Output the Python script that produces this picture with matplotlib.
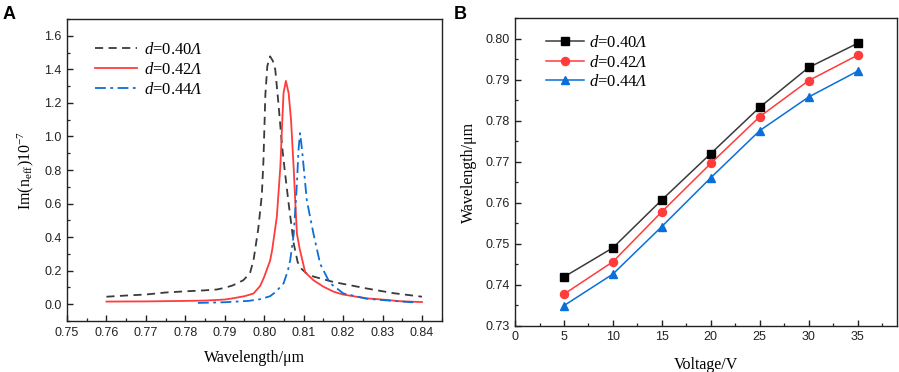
import matplotlib
matplotlib.use("Agg")
import matplotlib.pyplot as plt
from matplotlib.ticker import MultipleLocator

plt.rcParams['font.family'] = ['Liberation Sans', 'DejaVu Sans']
plt.rcParams['mathtext.fontset'] = 'custom'
plt.rcParams['mathtext.rm'] = 'Liberation Serif'
plt.rcParams['mathtext.it'] = 'Liberation Serif:italic'
plt.rcParams['mathtext.sf'] = 'Liberation Serif:italic'

# ---------------- Panel A data ----------------
wl_040 = [0.760, 0.765, 0.770, 0.775, 0.780, 0.785, 0.788, 0.790, 0.792, 0.7947,
          0.7964, 0.7973, 0.7985, 0.7994, 0.7998, 0.8003, 0.8008, 0.8015, 0.8022,
          0.8028, 0.8036, 0.8045, 0.8052, 0.8062, 0.8075, 0.8085, 0.8095, 0.8108,
          0.8125, 0.8175, 0.826, 0.8328, 0.840]
im_040 = [0.045, 0.052, 0.058, 0.070, 0.077, 0.083, 0.088, 0.098, 0.112, 0.143,
          0.185, 0.263, 0.45, 0.65, 0.85, 1.25, 1.42, 1.477, 1.45,
          1.40, 1.20, 0.95, 0.80, 0.60, 0.36, 0.25, 0.21, 0.183,
          0.165, 0.133, 0.094, 0.066, 0.045]

wl_042 = [0.760, 0.770, 0.780, 0.785, 0.790, 0.7922, 0.795, 0.7973, 0.7990, 0.8000,
          0.8015, 0.8020, 0.8032, 0.8041, 0.8046, 0.8049, 0.8055, 0.8062, 0.8068,
          0.8075, 0.8079, 0.8083, 0.8090, 0.8096, 0.8104, 0.8125, 0.8150, 0.8176,
          0.8200, 0.8260, 0.8300, 0.8345, 0.8400]
im_042 = [0.016, 0.017, 0.020, 0.022, 0.028, 0.036, 0.048, 0.064, 0.11, 0.163,
          0.26, 0.32, 0.52, 0.82, 1.10, 1.258, 1.331, 1.258, 1.10,
          0.80, 0.60, 0.42, 0.33, 0.27, 0.19, 0.143, 0.105, 0.075,
          0.058, 0.035, 0.028, 0.018, 0.013]

wl_044 = [0.7832, 0.790, 0.796, 0.799, 0.8015, 0.803, 0.8049, 0.806, 0.8066, 0.8075,
          0.8083, 0.8087, 0.8091, 0.8096, 0.8108, 0.8125, 0.8142, 0.8163, 0.8168,
          0.8201, 0.826, 0.830, 0.835, 0.8388]
im_044 = [0.008, 0.012, 0.020, 0.030, 0.048, 0.075, 0.124, 0.20, 0.263, 0.42,
          0.72, 0.92, 1.02, 0.92, 0.62, 0.42, 0.24, 0.143, 0.124,
          0.064, 0.033, 0.025, 0.016, 0.010]

# ---------------- Panel B data ----------------
voltage = [5, 10, 15, 20, 25, 30, 35]
res_040 = [0.7419, 0.7490, 0.7607, 0.7720, 0.7833, 0.7930, 0.7989]
res_042 = [0.7377, 0.7456, 0.7578, 0.7696, 0.7810, 0.7898, 0.7960]
res_044 = [0.7349, 0.7426, 0.7542, 0.7661, 0.7776, 0.7858, 0.7921]

labels = [r'$d$=0.40$\mathsf{Λ}$', r'$d$=0.42$\mathsf{Λ}$', r'$d$=0.44$\mathsf{Λ}$']

c_black = '#3a3a3a'
c_red = '#ff3b3b'
c_blue = '#0a6fd8'

fig = plt.figure(figsize=(8.99, 3.72), dpi=100)
axA = fig.add_axes([0.0745, 0.137, 0.4168, 0.812])
axB = fig.add_axes([0.5729, 0.1245, 0.4246, 0.8263])

serif = 'Liberation Serif'

def style(ax):
    for s in ax.spines.values():
        s.set_linewidth(1.0)
        s.set_color('#222222')
    ax.tick_params(which='both', direction='in', top=False, right=False,
                   labelsize=9, pad=4, colors='#222222')
    ax.tick_params(which='major', length=4.5, width=1.0)
    ax.tick_params(which='minor', length=2.3, width=0.9)

# Panel A
axA.plot(wl_040, im_040, color=c_black, lw=1.3, ls=(0, (4.5, 3)), label=labels[0])
axA.plot(wl_042, im_042, color=c_red, lw=1.3, ls='-', label=labels[1])
axA.plot(wl_044, im_044, color=c_blue, lw=1.3, ls=(0, (6, 2.5, 1.5, 2.5)), label=labels[2])
axA.set_xlim(0.75, 0.845)
axA.set_ylim(-0.1, 1.7)
axA.xaxis.set_major_locator(MultipleLocator(0.01))
axA.xaxis.set_minor_locator(MultipleLocator(0.005))
axA.yaxis.set_major_locator(MultipleLocator(0.2))
axA.yaxis.set_minor_locator(MultipleLocator(0.1))
axA.xaxis.set_major_formatter(plt.FuncFormatter(lambda v, p: f'{v:.2f}'))
axA.yaxis.set_major_formatter(plt.FuncFormatter(lambda v, p: f'{v:.1f}'))
style(axA)
axA.set_xlabel('Wavelength/μm', family=serif, fontsize=11.5, labelpad=8)
axA.set_ylabel(r'Im(n$_{\rm eff}$)10$^{-7}$', family=serif, fontsize=11.5, labelpad=6)
axA.legend(loc='upper left', bbox_to_anchor=(0.075, 0.925), frameon=False,
           prop={'family': serif, 'size': 12}, handlelength=2.5, handletextpad=0.45,
           labelspacing=0.25, borderpad=0, borderaxespad=0)

# Panel B
axB.plot(voltage, res_040, color=c_black, lw=1.1, marker='s', ms=5.3,
         mfc='black', mec='black', label=labels[0])
axB.plot(voltage, res_042, color=c_red, lw=1.1, marker='o', ms=5.8,
         mfc=c_red, mec=c_red, label=labels[1])
axB.plot(voltage, res_044, color=c_blue, lw=1.1, marker='^', ms=6.3,
         mfc=c_blue, mec=c_blue, label=labels[2])
axB.set_xlim(0, 39)
axB.set_ylim(0.73, 0.805)
axB.xaxis.set_major_locator(MultipleLocator(5))
axB.xaxis.set_minor_locator(MultipleLocator(2.5))
axB.yaxis.set_major_locator(MultipleLocator(0.01))
axB.yaxis.set_minor_locator(MultipleLocator(0.005))
axB.yaxis.set_major_formatter(plt.FuncFormatter(lambda v, p: f'{v:.2f}'))
style(axB)
axB.set_xlabel('Voltage/V', family=serif, fontsize=11.5, labelpad=10)
axB.set_ylabel('Wavelength/μm', family=serif, fontsize=11.5, labelpad=6)
axB.legend(loc='upper left', bbox_to_anchor=(0.08, 0.945), frameon=False,
           prop={'family': serif, 'size': 12}, handlelength=2.3, handletextpad=0.3,
           labelspacing=0.2, borderpad=0, borderaxespad=0)

fig.text(0.003, 0.985, 'A', fontsize=13, fontweight='bold', va='top', ha='left')
fig.text(0.505, 0.985, 'B', fontsize=13, fontweight='bold', va='top', ha='left')

fig.savefig('out.png', dpi=100)
